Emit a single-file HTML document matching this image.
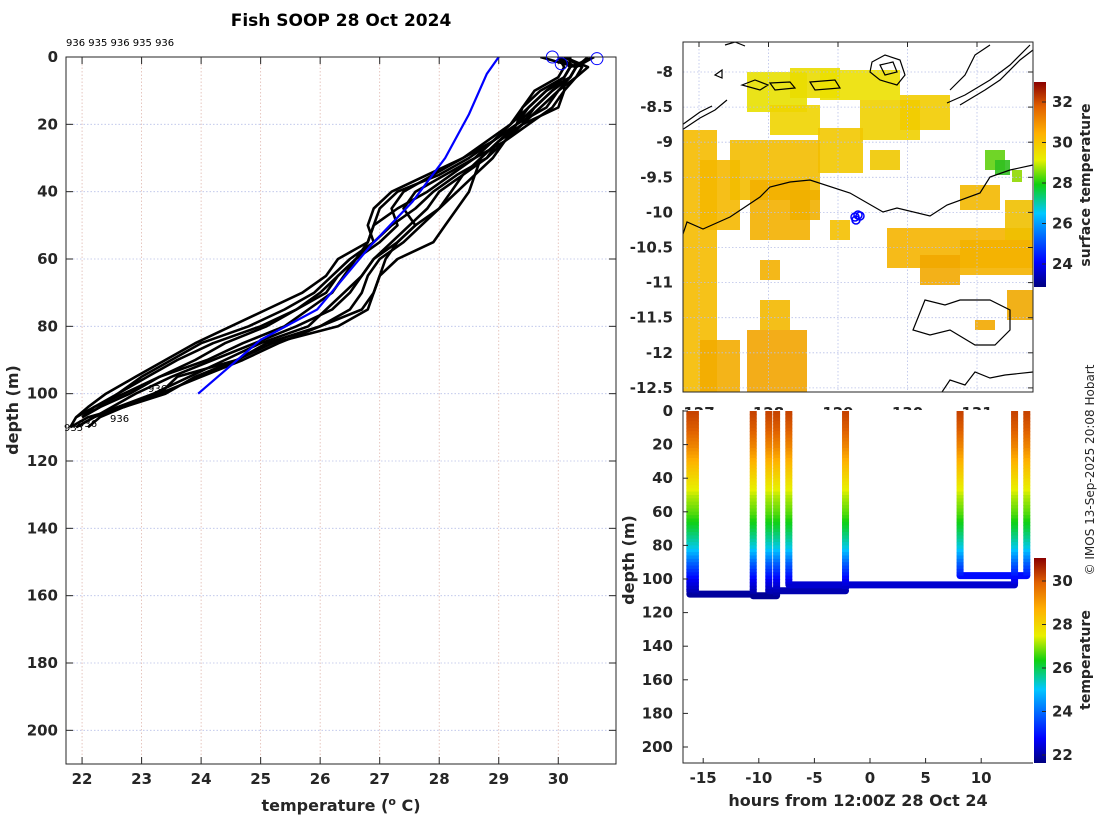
<!DOCTYPE html>
<html><head><meta charset="utf-8"><style>
html,body{margin:0;padding:0;background:#fff;}
svg{display:block;font-family:"DejaVu Sans","Liberation Sans",sans-serif;}
.tk{font-size:15px;font-weight:bold;fill:#262626;}
.lb{font-size:16px;font-weight:bold;fill:#262626;}
</style></head><body>
<svg id="fig" width="1100" height="820" viewBox="0 0 1100 820" xmlns="http://www.w3.org/2000/svg">
<defs>
<linearGradient id="jet" x1="0" y1="1" x2="0" y2="0">
<stop offset="0" stop-color="#00007f"/><stop offset="0.12" stop-color="#0000ff"/><stop offset="0.36" stop-color="#00c8ff"/><stop offset="0.5" stop-color="#10d010"/><stop offset="0.62" stop-color="#e8f000"/><stop offset="0.75" stop-color="#ffb000"/><stop offset="0.88" stop-color="#e06000"/><stop offset="1" stop-color="#8a0000"/>
</linearGradient>
<clipPath id="clipL"><rect x="66" y="57" width="550" height="707"/></clipPath>
<clipPath id="clipM"><rect x="683" y="42" width="350" height="350"/></clipPath>
</defs>
<text x="341" y="26" text-anchor="middle" style="font-size:17px;font-weight:bold">Fish SOOP 28 Oct 2024</text>
<text x="66" y="46" style="font-size:10px">936 935 936 935 936</text>
<g id="left"></g>
<g id="map"></g>
<g id="bot"></g>
<text transform="translate(1094,470) rotate(-90)" text-anchor="middle" style="font-size:12px;fill:#262626">© IMOS 13-Sep-2025 20:08 Hobart</text>
</svg>
<script>
const NS="http://www.w3.org/2000/svg";
function mk(parent,tag,attrs,text){const e=document.createElementNS(NS,tag);for(const k in attrs)e.setAttribute(k,attrs[k]);if(text!==undefined)e.textContent=text;parent.appendChild(e);return e;}

// ===== Left panel data =====
const depths=[0,3,6,10,15,20,25,30,35,40,45,50,55,60,65,70,75,80,85,90,95,100,104,107,110];
const prof1=[29.7,30.3,30.2,29.9,29.6,29.3,28.9,28.5,28.0,27.3,27.0,26.9,26.8,26.3,26.1,25.7,25.1,24.5,23.9,23.4,22.9,22.4,22.1,21.9,21.8];
const prof2=[30.0,30.2,30.1,30.1,30.0,29.4,29.0,28.7,28.6,28.5,28.3,28.1,27.9,27.3,27.0,26.9,26.7,26.0,25.1,24.6,23.6,23.3,22.7,22.3,22.1];
const prof3=[30.6,30.3,30.2,29.8,29.5,29.3,29.1,28.8,28.3,27.9,27.6,27.2,26.9,26.6,26.4,26.2,25.8,25.4,24.7,24.1,23.3,22.8,22.3,22.0];
const prof4=[30.1,30.4,30.3,30.1,29.9,29.5,29.1,28.6,28.1,27.6,27.4,27.6,27.3,26.9,26.7,26.5,26.2,25.6,24.9,24.2,23.5,22.9,22.5,22.2,21.9];
const prof5=[30.6,30.2,30.1,29.7,29.4,29.2,28.8,28.4,27.8,27.2,26.9,26.8,26.9,26.5,26.2,25.9,25.4,24.8,24.0,23.5,23.0,22.6,22.2,22.0];
const prof6=[30.0,30.3,30.2,30.0,29.7,29.4,29.0,28.8,28.4,28.0,27.8,27.5,27.2,26.9,26.7,26.4,26.1,25.8,25.0,24.4,23.8,23.2,22.6,22.2,21.9];
const prof7=[30.1,30.5,30.3,30.0,29.8,29.3,28.9,28.6,28.2,27.8,27.3,26.9,26.8,26.6,26.3,26.0,25.6,25.1,24.4,23.9,23.3,22.7,22.2,21.9];
const prof8=[30.0,30.1,30.0,29.6,29.4,29.3,29.0,28.7,28.4,28.2,28.0,27.7,27.4,27.0,26.8,26.7,26.5,26.0,25.3,24.7,24.0,23.3,22.6,22.2];
const prof9=[30.5,30.3,30.2,29.9,29.6,29.4,29.1,28.9,28.6,28.3,28.0,27.6,27.3,27.1,27.0,26.9,26.8,26.3,25.2,24.6,23.9,23.4,22.7,22.1,21.8];
const prof10=[30.2,30.2,30.1,29.8,29.5,29.2,28.9,28.4,27.9,27.4,27.2,27.3,27.0,26.6,26.3,26.1,25.6,25.0,24.2,23.6,23.1,22.6,22.3,22.0];
const climDepth=[0,5,17,30,43,56,75,84,100];
const climTemp=[29.0,28.8,28.5,28.1,27.55,26.85,25.95,25.0,23.95];
const surfTemp=[29.9,30.05,30.65];
const surfDepth=[0,2,0.5];
const xTicksL=[22,23,24,25,26,27,28,29,30];
const yTicksL=[0,20,40,60,80,100,120,140,160,180,200];

const L={x0:66,x1:616,y0:57,y1:764,tmin:21.73,tmax:30.97,dmax:210};
const xL=t=>L.x0+(t-L.tmin)/(L.tmax-L.tmin)*(L.x1-L.x0);
const yL=d=>L.y0+d/L.dmax*(L.y1-L.y0);
const gl=document.getElementById('left');
xTicksL.forEach(t=>{
  const g=mk(gl,'line',{x1:xL(t),x2:xL(t),y1:L.y0,y2:L.y1,stroke:'#e0b8b0','stroke-width':0.8,'stroke-dasharray':'1.5,2'});
  
  
  mk(gl,'line',{x1:xL(t),x2:xL(t),y1:L.y1,y2:L.y1-7,stroke:'#262626'});
  mk(gl,'line',{x1:xL(t),x2:xL(t),y1:L.y0,y2:L.y0+7,stroke:'#262626'});
  const lt=mk(gl,'text',{x:xL(t),y:L.y1+20,'text-anchor':'middle',class:'tk'},String(t));
  
  
});
yTicksL.forEach(d=>{
  const g=mk(gl,'line',{x1:L.x0,x2:L.x1,y1:yL(d),y2:yL(d),stroke:'#b8c0e8','stroke-width':0.8,'stroke-dasharray':'1.5,2'});
  
  
  mk(gl,'line',{x1:L.x0,x2:L.x0+7,y1:yL(d),y2:yL(d),stroke:'#262626'});
  mk(gl,'line',{x1:L.x1,x2:L.x1-7,y1:yL(d),y2:yL(d),stroke:'#262626'});
  const lt=mk(gl,'text',{x:L.x0-8,y:yL(d)+5,'text-anchor':'end',class:'tk'},String(d));
  
  
});
const profs=[prof1,prof2,prof3,prof4,prof5,prof6,prof7,prof8,prof9,prof10];
const pg=mk(gl,'g',{'clip-path':'url(#clipL)'});
profs.forEach((p,i)=>{
  const pts=p.map((t,j)=>xL(t).toFixed(1)+','+yL(depths[j]).toFixed(1)).join(' ');
  const pl=mk(pg,'polyline',{points:pts,fill:'none',stroke:'#000','stroke-width':2.6,'stroke-linejoin':'round'});
  
  
});
const cl=mk(pg,'polyline',{points:climTemp.map((t,j)=>xL(t)+','+yL(climDepth[j])).join(' '),fill:'none',stroke:'#0000ff','stroke-width':2.2});


surfTemp.forEach((t,i)=>{
  const c=mk(gl,'circle',{cx:xL(t),cy:yL(surfDepth[i]),r:6,fill:'none',stroke:'#0000ff','stroke-width':1});
  
  
});
[[148,392,'936'],[110,422,'936'],[78,427,'936'],[64,431,'935']].forEach(a=>{
  const t=mk(gl,'text',{x:a[0],y:a[1],style:'font-size:10px'},a[2]);
  
  
});
mk(gl,'rect',{x:L.x0,y:L.y0,width:L.x1-L.x0,height:L.y1-L.y0,fill:'none',stroke:'#262626','stroke-width':1});
let t1=mk(gl,'text',{x:341,y:811,'text-anchor':'middle',class:'lb'},'temperature (');
mk(t1,'tspan',{dy:-6,style:'font-size:11px'},'o');
mk(t1,'tspan',{dy:6},' C)');


let t2=mk(gl,'text',{transform:'translate(18,410) rotate(-90)','text-anchor':'middle',class:'lb'},'depth (m)');



// ===== colormap (matches colorbar gradient) =====
const cmPos=[0,0.12,0.36,0.5,0.62,0.75,0.88,1];
const cmCol=[[0,0,127],[0,0,255],[0,200,255],[16,208,16],[232,240,0],[255,176,0],[224,96,0],[138,0,0]];
function cmap(v){v=Math.max(0,Math.min(1,v));
 for(let i=1;i<cmPos.length;i++){if(v<=cmPos[i]){const f=(v-cmPos[i-1])/(cmPos[i]-cmPos[i-1]);const a=cmCol[i-1],b=cmCol[i];
  return 'rgb('+Math.round(a[0]+f*(b[0]-a[0]))+','+Math.round(a[1]+f*(b[1]-a[1]))+','+Math.round(a[2]+f*(b[2]-a[2]))+')';}}
 return 'rgb(138,0,0)';}

// ===== Map =====
const gm=document.getElementById('map');
const M={x0:683,x1:1033,y0:42,y1:392};
const latTicks=[-8,-8.5,-9,-9.5,-10,-10.5,-11,-11.5,-12,-12.5];
const lonTicks=[127,128,129,130,131];
const yM=lat=>72+(-8-lat)/0.5*35.1;
const xM=i=>699+i*69.5;
const patches=[
[747,72,60,40,'#e8e000'],[790,68,50,30,'#eadc00'],[820,70,80,30,'#ece000'],[860,100,60,40,'#f0d000'],[900,95,50,35,'#f2cc00'],
[770,105,50,30,'#f0d400'],[818,128,45,45,'#f2c800'],[870,150,30,20,'#f0c800'],
[683,130,34,263,'#f5bb00'],[700,160,40,70,'#f5b800'],[730,140,90,60,'#f3bc00'],[750,180,60,60,'#f3b000'],[790,190,30,30,'#f1b000'],
[887,228,146,40,'#f5b400'],[920,255,40,30,'#f2a800'],[960,240,73,35,'#f4b200'],[1005,200,28,40,'#f0c000'],
[747,330,60,63,'#f2a400'],[700,340,40,53,'#f3ac00'],[1007,290,26,30,'#f0a800'],[760,300,30,30,'#f3b800'],
[960,185,40,25,'#f3b800'],[985,150,20,20,'#60d010'],[995,160,15,15,'#30c020'],[1012,170,10,12,'#90d800'],
[830,220,20,20,'#f4c000'],[760,260,20,20,'#f3b000'],[975,320,20,10,'#f2a800']
];
const mg=mk(gm,'g',{'clip-path':'url(#clipM)'});
patches.forEach(p=>{const r=mk(mg,'rect',{x:p[0],y:p[1],width:p[2],height:p[3],fill:p[4],opacity:0.9});
 
 });
latTicks.forEach(l=>{mk(mg,'line',{x1:M.x0,x2:M.x1,y1:yM(l),y2:yM(l),stroke:'#b8c0e8','stroke-width':0.8,'stroke-dasharray':'1.5,2'});
 mk(gm,'line',{x1:M.x1,x2:M.x1-5,y1:yM(l),y2:yM(l),stroke:'#262626'});
 const t=mk(gm,'text',{x:M.x0-10,y:yM(l)+5,'text-anchor':'end',class:'tk'},String(l));
 
 });
lonTicks.forEach((l,i)=>{mk(mg,'line',{x1:xM(i),x2:xM(i),y1:M.y0,y2:M.y1,stroke:'#b8c0e8','stroke-width':0.8,'stroke-dasharray':'1.5,2'});
 mk(gm,'line',{x1:xM(i),x2:xM(i),y1:M.y0,y2:M.y0+5,stroke:'#262626'});
 const t=mk(gm,'text',{x:xM(i),y:418,'text-anchor':'middle',class:'tk'},String(l));
 
 });
const coasts=[
'M682,237 L687,222 L703,229 L730,217 L760,197 L770,187 L790,182 L810,180 L850,193 L883,212 L897,208 L930,216 L947,205 L980,193 L990,177 L1010,170 L1033,165',
'M682,130 L700,118 L715,110 L727,100 M682,125 L700,112 L712,106',
'M947,103 L965,95 L990,80 L1010,65 L1030,45 M960,105 L985,90 L1000,80 L1020,60 L1033,50 M950,90 L965,75 L975,55 L990,45',
'M872,62 L885,55 L900,60 L905,75 L897,85 L880,80 L870,72 Z M880,65 L893,62 L897,72 L885,75 Z',
'M913,330 L925,300 L945,305 L960,300 L990,300 L1010,310 L1010,330 L995,345 L975,345 L950,330 L930,335 Z',
'M940,395 L950,380 L965,385 L975,372 L990,378 L1005,375 L1033,372',
'M742,85 L755,80 L768,85 L760,90 Z M770,83 L790,82 L795,88 L775,90 Z M810,82 L835,80 L840,88 L815,90 Z',
'M715,75 L722,70 L722,78 Z M725,45 L735,42 L745,46'
];
coasts.forEach(d=>{const p=mk(mg,'path',{d:d,fill:'none',stroke:'#000','stroke-width':1.2});
 
 });
[[855,217],[858,215],[856,220],[860,216]].forEach(c=>{const e=mk(gm,'circle',{cx:c[0],cy:c[1],r:4,fill:'none',stroke:'#0000ff','stroke-width':1.5});
 
 });
mk(gm,'rect',{x:M.x0,y:M.y0,width:M.x1-M.x0,height:M.y1-M.y0,fill:'none',stroke:'#262626'});
const cb1=mk(gm,'rect',{x:1034,y:82,width:12,height:205,fill:'url(#jet)'});


const cbTicks1=[32,30,28,26,24];
cbTicks1.forEach(v=>{const y=102+(32-v)*20.25;
 mk(gm,'line',{x1:1046,x2:1042,y1:y,y2:y,stroke:'#262626'});
 const t=mk(gm,'text',{x:1052,y:y+5,class:'tk'},String(v));
 
 });
const tt=mk(gm,'text',{transform:'translate(1090,185) rotate(-90)','text-anchor':'middle',class:'lb',style:'font-size:14px'},'surface temperature');



// ===== Bottom time-depth panel =====
const castHours=[-16.2,-15.7,-10.5,-9.1,-8.4,-7.3,-2.2,8.1,13.0,14.1];
const castBottom=[108,109,109,108,110,103,106,98,103,98];
const tracks=[[-16.2,-10.5,109],[-10.5,-8.4,110],[-9.1,-2.2,107],[-7.3,13.0,103.5],[8.1,14.1,98]];
const meanDepth=[0,10,20,30,40,50,60,70,80,90,100,110];
const meanTemp=[30.4,30.1,29.5,28.7,28.0,27.3,26.8,26.1,25.3,23.9,22.7,21.9];
const hourTicks=[-15,-10,-5,0,5,10];
const yTicksB=[0,20,40,60,80,100,120,140,160,180,200];
const B={x0:683,x1:1033,y0:410,y1:763};
const xB=h=>870+h*11.12;
const yB=d=>411+d*1.68;
const gb=document.getElementById('bot');
mk(gb,'rect',{x:B.x0-2,y:B.y0,width:B.x1-B.x0+4,height:B.y1-B.y0,fill:'#fff'});
const tOf=d=>{for(let i=1;i<meanDepth.length;i++){if(d<=meanDepth[i]){const f=(d-meanDepth[i-1])/(meanDepth[i]-meanDepth[i-1]);return meanTemp[i-1]+f*(meanTemp[i]-meanTemp[i-1]);}}return meanTemp[meanTemp.length-1];};
const cv=t=>cmap((t-21.7)/(31.2-21.7));
tracks.forEach(tr=>{const l=mk(gb,'line',{x1:xB(tr[0]),x2:xB(tr[1]),y1:yB(tr[2]),y2:yB(tr[2]),stroke:cv(tOf(tr[2])),'stroke-width':7,'stroke-linecap':'round'});
 
 });
castHours.forEach((h,i)=>{
 const g=mk(gb,'g',{});
 
 
 for(let d=0;d<castBottom[i];d+=2){mk(g,'line',{x1:xB(h),x2:xB(h),y1:yB(d),y2:yB(Math.min(d+2.5,castBottom[i])),stroke:cv(tOf(d)),'stroke-width':7});}
});
yTicksB.forEach(d=>{mk(gb,'line',{x1:B.x0,x2:B.x0+5,y1:yB(d),y2:yB(d),stroke:'#262626'});
 const t=mk(gb,'text',{x:B.x0-10,y:yB(d)+5,'text-anchor':'end',class:'tk'},String(d));
 
 });
hourTicks.forEach(h=>{mk(gb,'line',{x1:xB(h),x2:xB(h),y1:B.y1,y2:B.y1-5,stroke:'#262626'});
 const t=mk(gb,'text',{x:xB(h),y:B.y1+20,'text-anchor':'middle',class:'tk'},String(h));
 
 });
mk(gb,'path',{d:`M${B.x0},${B.y0} L${B.x0},${B.y1} L${B.x1},${B.y1}`,fill:'none',stroke:'#262626'});
const bx=mk(gb,'text',{x:858,y:806,'text-anchor':'middle',class:'lb'},'hours from 12:00Z 28 Oct 24');


const by=mk(gb,'text',{transform:'translate(634,560) rotate(-90)','text-anchor':'middle',class:'lb'},'depth (m)');


const cb2=mk(gb,'rect',{x:1034,y:558,width:12,height:205,fill:'url(#jet)'});


const cbTicks2=[30,28,26,24,22];
cbTicks2.forEach(v=>{const y=581+(30-v)*21.75;
 mk(gb,'line',{x1:1046,x2:1042,y1:y,y2:y,stroke:'#262626'});
 const t=mk(gb,'text',{x:1052,y:y+5,class:'tk'},String(v));
 
 });
const ct=mk(gb,'text',{transform:'translate(1090,660) rotate(-90)','text-anchor':'middle',class:'lb',style:'font-size:14px'},'temperature');


</script>
</body></html>
